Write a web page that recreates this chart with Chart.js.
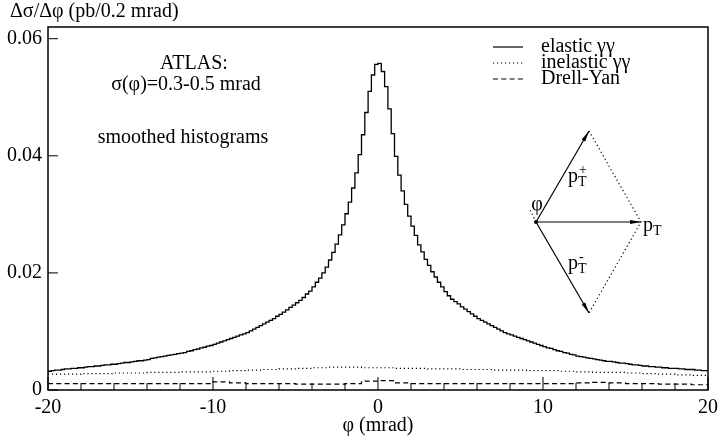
<!DOCTYPE html>
<html>
<head>
<meta charset="utf-8">
<script src="https://cdn.jsdelivr.net/npm/chart.js@4.4.1/dist/chart.umd.min.js"></script>
<style>
  body { margin: 0; background: #fff; }
  #wrap { width: 721px; height: 436px; }
</style>
</head>
<body>
<div id="wrap"><canvas id="myChart" width="721" height="436"></canvas></div>
<script>
// elastic gamma-gamma, 0.2 mrad bins from -20 to 20 (left edges)
const elasticBinWidth = 0.2;
const elastic = [
  0.0032, 0.0033, 0.0034, 0.0034, 0.0035, 0.0036, 0.0036, 0.0037, 0.0037, 0.0038,
  0.0038, 0.0039, 0.0040, 0.0040, 0.0041, 0.0041, 0.0042, 0.0043, 0.0043, 0.0044,
  0.0044, 0.0045, 0.0046, 0.0047, 0.0047, 0.0048, 0.0049, 0.0050, 0.0050, 0.0051,
  0.0052, 0.0054, 0.0055, 0.0056, 0.0057, 0.0058, 0.0059, 0.0060, 0.0061, 0.0062,
  0.0063, 0.0064, 0.0066, 0.0067, 0.0069, 0.0070, 0.0072, 0.0073, 0.0075, 0.0076,
  0.0078, 0.0080, 0.0082, 0.0084, 0.0086, 0.0088, 0.0090, 0.0092, 0.0094, 0.0096,
  0.0098, 0.0101, 0.0104, 0.0107, 0.0110, 0.0113, 0.0116, 0.0119, 0.0122, 0.0126,
  0.0129, 0.0133, 0.0137, 0.0141, 0.0145, 0.0149,
  // -4.8 .. 0
  0.0153, 0.0158, 0.0164, 0.0169, 0.0176, 0.0184, 0.0191, 0.0200, 0.0210, 0.0222,
  0.0235, 0.0249, 0.0265, 0.0282, 0.0301, 0.0321, 0.0345, 0.0371, 0.0402, 0.0436,
  0.0474, 0.0510, 0.0538, 0.0556,
  // 0 .. 4.8
  0.0558, 0.0544, 0.0518, 0.0480, 0.0438, 0.0399, 0.0367, 0.0340, 0.0317, 0.0297,
  0.0280, 0.0264, 0.0248, 0.0236, 0.0223, 0.0213, 0.0202, 0.0193, 0.0184, 0.0176,
  0.0168, 0.0161, 0.0155, 0.0151,
  // 4.8 .. 20
  0.0147, 0.0142, 0.0138, 0.0134, 0.0130, 0.0126, 0.0122, 0.0119, 0.0116, 0.0113,
  0.0110, 0.0107, 0.0104, 0.0101, 0.0098, 0.0096, 0.0094, 0.0092, 0.0090, 0.0088,
  0.0086, 0.0084, 0.0082, 0.0080, 0.0078, 0.0076, 0.0074, 0.0072, 0.0071, 0.0069,
  0.0067, 0.0066, 0.0064, 0.0063, 0.0061, 0.0060, 0.0058, 0.0057, 0.0056, 0.0055,
  0.0054, 0.0053, 0.0052, 0.0051, 0.0050, 0.0049, 0.0049, 0.0048, 0.0047, 0.0046,
  0.0046, 0.0045, 0.0044, 0.0043, 0.0043, 0.0042, 0.0041, 0.0041, 0.0040, 0.0040,
  0.0039, 0.0039, 0.0038, 0.0038, 0.0037, 0.0037, 0.0037, 0.0036, 0.0036, 0.0035,
  0.0035, 0.0035, 0.0034, 0.0034, 0.0033, 0.0033
];

// inelastic gamma-gamma and Drell-Yan, read on 1 mrad bins
const coarseBinWidth = 1;
const inelastic = [
  0.0027, 0.0027, 0.0028, 0.0028, 0.0029, 0.0029, 0.0030, 0.0030, 0.0031, 0.0031,
  0.0032, 0.0033, 0.0034, 0.0035, 0.0036, 0.0037, 0.0038, 0.0039, 0.0039, 0.0038,
  0.0038, 0.0037, 0.0037, 0.0036, 0.0036, 0.0035, 0.0035, 0.0034, 0.0034, 0.0033,
  0.0033, 0.0032, 0.0031, 0.0030, 0.0030, 0.0029, 0.0028, 0.0027, 0.0026, 0.0025
];
const drellYan = [
  0.0011, 0.0011, 0.0011, 0.0011, 0.0011, 0.0011, 0.0011, 0.0011, 0.0011, 0.0011,
  0.0014, 0.0012, 0.0011, 0.0011, 0.0011, 0.0010, 0.0010, 0.0010, 0.0011, 0.0015,
  0.0016, 0.0012, 0.0011, 0.0011, 0.0011, 0.0011, 0.0011, 0.0011, 0.0011, 0.0011,
  0.0011, 0.0011, 0.0012, 0.0013, 0.0012, 0.0011, 0.0011, 0.0010, 0.0010, 0.0009
];

const xMajorTicks = [-20, -10, 0, 10, 20];
const xMinorTicks = [-18, -16, -14, -12, -8, -6, -4, -2, 2, 4, 6, 8, 12, 14, 16, 18];
const yMajorTicks = [0, 0.02, 0.04, 0.06];
const legendLabels = ['elastic \u03b3\u03b3', 'inelastic \u03b3\u03b3', 'Drell-Yan'];

const serif = '"Liberation Serif", "DejaVu Serif", serif';
const fontSize = 20;

// histogram -> points on bin edges (stepped line holds each value to the next edge)
function toSteps(values, width) {
  const pts = values.map((v, i) => ({x: -20 + i * width, y: v}));
  pts.push({x: 20, y: values[values.length - 1]});
  return pts;
}

const dashStyles = [[], [1.2, 2.8], [5, 3.3]];

function drawText(ctx, str, x, y, align, size) {
  ctx.font = size + 'px ' + serif;
  ctx.textAlign = align;
  ctx.textBaseline = 'middle';
  ctx.fillText(str, x, y);
}

function drawPT(ctx, x, y, sup) {
  drawText(ctx, 'p', x, y, 'left', fontSize);
  const w = ctx.measureText('p').width;
  drawText(ctx, 'T', x + w, y + 5, 'left', 14);
  if (sup) drawText(ctx, sup, x + w + 1, y - 7, 'left', 14);
}

function arrow(ctx, x0, y0, x1, y1) {
  ctx.beginPath();
  ctx.moveTo(x0, y0);
  ctx.lineTo(x1, y1);
  ctx.stroke();
  const ang = Math.atan2(y1 - y0, x1 - x0);
  const len = 11, half = 2;
  ctx.beginPath();
  ctx.moveTo(x1, y1);
  ctx.lineTo(x1 - len * Math.cos(ang) + half * Math.sin(ang), y1 - len * Math.sin(ang) - half * Math.cos(ang));
  ctx.lineTo(x1 - len * Math.cos(ang) - half * Math.sin(ang), y1 - len * Math.sin(ang) + half * Math.cos(ang));
  ctx.closePath();
  ctx.fill();
}

const decorations = {
  id: 'decorations',
  afterDraw(chart) {
    const {ctx, chartArea: a, scales: {x, y}} = chart;
    ctx.save();
    ctx.strokeStyle = '#000';
    ctx.fillStyle = '#000';

    // frame
    ctx.lineWidth = 1.5;
    ctx.strokeRect(a.left, a.top, a.right - a.left, a.bottom - a.top);

    // inside ticks
    ctx.lineWidth = 1;
    ctx.beginPath();
    xMajorTicks.forEach(v => {
      const px = x.getPixelForValue(v);
      ctx.moveTo(px, a.bottom); ctx.lineTo(px, a.bottom - 13);
    });
    xMinorTicks.forEach(v => {
      const px = x.getPixelForValue(v);
      ctx.moveTo(px, a.bottom); ctx.lineTo(px, a.bottom - 7);
    });
    yMajorTicks.forEach(v => {
      const py = y.getPixelForValue(v);
      ctx.moveTo(a.left, py); ctx.lineTo(a.left + 10, py);
    });
    ctx.stroke();

    // axis titles
    drawText(ctx, '\u0394\u03c3/\u0394\u03c6 (pb/0.2 mrad)', 10, 12, 'left', fontSize);
    drawText(ctx, '\u03c6 (mrad)', (a.left + a.right) / 2, 426, 'center', fontSize);

    // labels
    drawText(ctx, 'ATLAS:', 194, 64, 'center', fontSize);
    drawText(ctx, '\u03c3(\u03c6)=0.3-0.5 mrad', 186, 85, 'center', fontSize);
    drawText(ctx, 'smoothed histograms', 183, 138, 'center', fontSize);

    // legend
    legendLabels.forEach((lab, i) => {
      const ly = 47 + i * 16;
      ctx.setLineDash(dashStyles[i]);
      ctx.lineWidth = 1.2;
      ctx.beginPath();
      ctx.moveTo(493, ly); ctx.lineTo(523, ly);
      ctx.stroke();
      ctx.setLineDash([]);
      drawText(ctx, lab, 541, ly, 'left', fontSize);
    });

    // kinematics sketch
    const o = {x: 536, y: 222};
    const up = {x: 589, y: 131};
    const dn = {x: 589, y: 313};
    const rt = {x: 641, y: 222};
    ctx.lineWidth = 1.2;
    arrow(ctx, o.x, o.y, up.x, up.y);
    arrow(ctx, o.x, o.y, dn.x, dn.y);
    arrow(ctx, o.x, o.y, rt.x, rt.y);
    ctx.beginPath();
    ctx.arc(o.x, o.y, 2, 0, Math.PI * 2);
    ctx.fill();
    ctx.setLineDash([1.2, 2.8]);
    ctx.beginPath();
    ctx.moveTo(up.x, up.y); ctx.lineTo(rt.x, rt.y); ctx.lineTo(dn.x, dn.y);
    ctx.moveTo(o.x, o.y); ctx.lineTo(o.x - 6, o.y - 12);
    ctx.stroke();
    ctx.setLineDash([]);
    drawText(ctx, '\u03c6', 537, 205, 'center', fontSize);
    drawPT(ctx, 568, 177, '+');
    drawPT(ctx, 568, 264, '-');
    drawPT(ctx, 643, 226, null);

    ctx.restore();
  }
};

new Chart(document.getElementById('myChart'), {
  type: 'line',
  data: {
    datasets: [
      {label: legendLabels[0], data: toSteps(elastic, elasticBinWidth), borderWidth: 1.3},
      {label: legendLabels[1], data: toSteps(inelastic, coarseBinWidth), borderWidth: 1.2, borderDash: dashStyles[1]},
      {label: legendLabels[2], data: toSteps(drellYan, coarseBinWidth), borderWidth: 1.2, borderDash: dashStyles[2]}
    ].map(d => Object.assign(d, {stepped: true, borderColor: '#000', pointRadius: 0, fill: false}))
  },
  options: {
    responsive: false,
    animation: false,
    layout: {padding: {top: 27, right: 13, left: 0, bottom: 0}},
    plugins: {legend: {display: false}, tooltip: {enabled: false}},
    scales: {
      x: {
        type: 'linear', min: -20, max: 20,
        afterFit: s => { s.height = 46; s.paddingLeft = 0; s.paddingRight = 0; },
        grid: {display: false, drawTicks: false}, border: {display: false},
        ticks: {stepSize: 10, color: '#000', padding: 6, maxRotation: 0, font: {family: serif, size: fontSize}}
      },
      y: {
        min: 0, max: 0.062,
        afterFit: s => { s.width = 48; s.paddingTop = 0; s.paddingBottom = 0; },
        grid: {display: false, drawTicks: false}, border: {display: false},
        ticks: {
          stepSize: 0.02, includeBounds: false, color: '#000', padding: 6,
          font: {family: serif, size: fontSize},
          callback: v => v === 0 ? '0' : v.toFixed(2)
        }
      }
    }
  },
  plugins: [decorations]
});
</script>
</body>
</html>
